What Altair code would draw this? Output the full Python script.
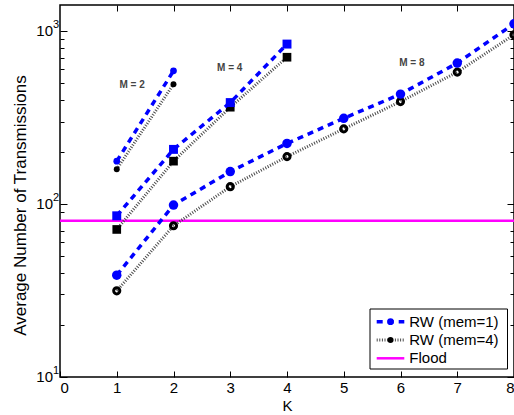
import altair as alt
import pandas as pd

# Average number of transmissions vs. K, for M = 2, 4, 8
K_M2 = [1, 2]
RW1_M2 = [177, 589]
RW4_M2 = [159, 493]

K_M4 = [1, 2, 3, 4]
RW1_M4 = [85.5, 207, 386, 841]
RW4_M4 = [71.3, 177, 363, 706]

K_M8 = [1, 2, 3, 4, 5, 6, 7, 8]
RW1_M8 = [38.8, 98.6, 154, 224, 313, 432, 653, 1102]
RW4_M8 = [31.5, 74.9, 126, 188, 272, 391, 579, 952]

FLOOD = 80

M_LABELS = ["M = 2", "M = 4", "M = 8"]
M_LABEL_K = [1.27, 2.99, 6.2]
M_LABEL_V = [489, 615, 653]

DECADES = [10, 100, 1000]
EXPONENTS = ["1", "2", "3"]
X_TICKS = [0, 1, 2, 3, 4, 5, 6, 7, 8]
Y_TICKS = [10, 20, 30, 40, 50, 60, 70, 80, 90,
           100, 200, 300, 400, 500, 600, 700, 800, 900, 1000]

FONT = "Liberation Sans"
BLUE = "#0000FF"
DARK = "#4a4a4a"


def rows(m, mem, ks, vals):
    return [{"M": m, "mem": mem, "K": k, "value": v} for k, v in zip(ks, vals)]


df = pd.DataFrame(
    rows(2, 1, K_M2, RW1_M2) + rows(2, 4, K_M2, RW4_M2)
    + rows(4, 1, K_M4, RW1_M4) + rows(4, 4, K_M4, RW4_M4)
    + rows(8, 1, K_M8, RW1_M8) + rows(8, 4, K_M8, RW4_M8)
)
rw1 = df[df["mem"] == 1]
rw4 = df[df["mem"] == 4]

W, H = 454, 372
xs = alt.Scale(domain=[0, 8], nice=False, zero=False)
ys = alt.Scale(type="log", domain=[10, 1415], nice=False)

major_test = "indexof([10,100,1000], datum.value) >= 0"

x_axis = alt.Axis(values=X_TICKS, title="K", grid=False, domain=False,
                  tickSize={"expr": "-6"}, tickColor="black",
                  labelFontSize=15, labelColor="black", labelFont=FONT,
                  labelPadding=9, titleFontSize=15, titleFont=FONT,
                  titleFontWeight="normal", titleColor="black",
                  titleX=W / 2, titleY=28, titleBaseline="middle")
y_axis = alt.Axis(values=Y_TICKS, title="Average Number of Transmissions",
                  grid=False, domain=False, labels=False,
                  tickSize={"condition": {"test": major_test, "value": -7}, "value": -4},
                  tickColor="black",
                  titleFontSize=17, titleFont=FONT, titleFontWeight="normal",
                  titleColor="black", titleX=-40, titleY=200,
                  titleBaseline="middle", titleAngle=270)

X = alt.X("K:Q", scale=xs, axis=x_axis)
Y = alt.Y("value:Q", scale=ys, axis=y_axis)

# Flood reference level
flood = alt.Chart(pd.DataFrame({"value": [FLOOD]})).mark_rule(
    color="#FF00FF", strokeWidth=2.5).encode(y=Y)

# Random walk curves
line4 = alt.Chart(rw4).mark_line(color=DARK, strokeWidth=3, strokeDash=[1, 1.6]).encode(
    x=X, y=Y, detail="M:N")
line1 = alt.Chart(rw1).mark_line(color=BLUE, strokeWidth=3.5, strokeDash=[6, 5]).encode(
    x=X, y=Y, detail="M:N")

pts4_m2 = alt.Chart(rw4[rw4["M"] == 2]).mark_point(
    shape="circle", filled=True, color="black", size=35, opacity=1).encode(x=X, y=Y)
pts4_m4 = alt.Chart(rw4[rw4["M"] == 4]).mark_point(
    shape="square", filled=True, color="black", size=75, opacity=1).encode(x=X, y=Y)
pts4_m8 = alt.Chart(rw4[rw4["M"] == 8]).mark_point(
    shape="circle", filled=False, color="black", strokeWidth=3, size=38, opacity=1).encode(x=X, y=Y)

pts1_m2 = alt.Chart(rw1[rw1["M"] == 2]).mark_point(
    shape="circle", filled=True, color=BLUE, size=45, opacity=1).encode(x=X, y=Y)
pts1_m4 = alt.Chart(rw1[rw1["M"] == 4]).mark_point(
    shape="square", filled=True, color=BLUE, size=80, opacity=1).encode(x=X, y=Y)
pts1_m8 = alt.Chart(rw1[rw1["M"] == 8]).mark_point(
    shape="circle", filled=True, color=BLUE, size=90, opacity=1).encode(x=X, y=Y)

# Curve annotations
mlab = alt.Chart(pd.DataFrame({"K": M_LABEL_K, "value": M_LABEL_V, "t": M_LABELS})).mark_text(
    font=FONT, fontSize=10, fontWeight="bold", color="#444444", align="center",
    baseline="middle").encode(x=X, y=Y, text="t:N")

# Decade labels (10^n) on the log axis
dec = pd.DataFrame({"value": DECADES, "e": EXPONENTS, "b": ["10"] * 3})
dec_base = alt.Chart(dec).mark_text(font=FONT, fontSize=15, color="black",
                                    align="right", baseline="middle").encode(
    x=alt.value(-7), y=Y, text="b:N")
dec_exp = alt.Chart(dec).mark_text(font=FONT, fontSize=11, color="black",
                                   align="left", baseline="middle", dy=-6).encode(
    x=alt.value(-7), y=Y, text="e:N")

# Legend
one = pd.DataFrame({"a": [0]})
LX0, LX1, LY0, LY1 = 310, 447.5, 304, 364
ROWS = [316.7, 335, 353.3]
SX0, SX1, SXM, TX = 316.7, 344.3, 330.5, 349.3

leg_box = alt.Chart(one).mark_rect(fill="white", stroke="black", strokeWidth=1).encode(
    x=alt.value(LX0), x2=alt.value(LX1), y=alt.value(LY0), y2=alt.value(LY1))
leg_l1 = alt.Chart(one).mark_rule(color=BLUE, strokeWidth=3.5, strokeDash=[6, 5]).encode(
    x=alt.value(SX0), x2=alt.value(SX1), y=alt.value(ROWS[0]))
leg_p1 = alt.Chart(one).mark_point(shape="circle", filled=True, color=BLUE, size=45,
                                   opacity=1).encode(x=alt.value(SXM), y=alt.value(ROWS[0]))
leg_l2 = alt.Chart(one).mark_rule(color=DARK, strokeWidth=3, strokeDash=[1, 1.6]).encode(
    x=alt.value(SX0), x2=alt.value(SX1), y=alt.value(ROWS[1]))
leg_p2 = alt.Chart(one).mark_point(shape="circle", filled=True, color="black", size=35,
                                   opacity=1).encode(x=alt.value(SXM), y=alt.value(ROWS[1]))
leg_l3 = alt.Chart(one).mark_rule(color="#FF00FF", strokeWidth=2.5).encode(
    x=alt.value(SX0), x2=alt.value(SX1), y=alt.value(ROWS[2]))
leg_txt = alt.Chart(pd.DataFrame({"t": ["RW (mem=1)", "RW (mem=4)", "Flood"],
                                  "yy": ROWS})).mark_text(
    font=FONT, fontSize=15, color="black", align="left", baseline="middle").encode(
    x=alt.value(TX), y=alt.Y("yy:Q", scale=None), text="t:N")

main = alt.layer(
    flood, line4, pts4_m2, pts4_m4, pts4_m8, line1, pts1_m2, pts1_m4, pts1_m8,
    mlab, dec_base, dec_exp,
    leg_box, leg_l1, leg_p1, leg_l2, leg_p2, leg_l3, leg_txt,
)

# Mirrored tick marks on the top and right edges of the box
mirror = alt.Chart(df).mark_point(opacity=0).encode(
    x=alt.X("K:Q", scale=xs, axis=alt.Axis(orient="top", values=[1, 2, 3, 4, 5, 6, 7],
                                           labels=False, title=None, grid=False, domain=False,
                                           tickSize={"expr": "-6"}, tickColor="black")),
    y=alt.Y("value:Q", scale=ys, axis=alt.Axis(
        orient="right", values=Y_TICKS, labels=False, title=None, grid=False, domain=False,
        tickSize={"condition": {"test": major_test, "value": -7}, "value": -4},
        tickColor="black")),
)

chart = alt.layer(main, mirror).resolve_scale(x="independent", y="independent").properties(
    width=W, height=H,
    autosize=alt.AutoSizeParams(type="none"),
    padding={"left": 60, "top": 5, "right": 0, "bottom": 38},
    background="white",
).configure_view(stroke="black", strokeWidth=1.5)

chart.save("out.html", embed_options={"renderer": "svg", "actions": False})
